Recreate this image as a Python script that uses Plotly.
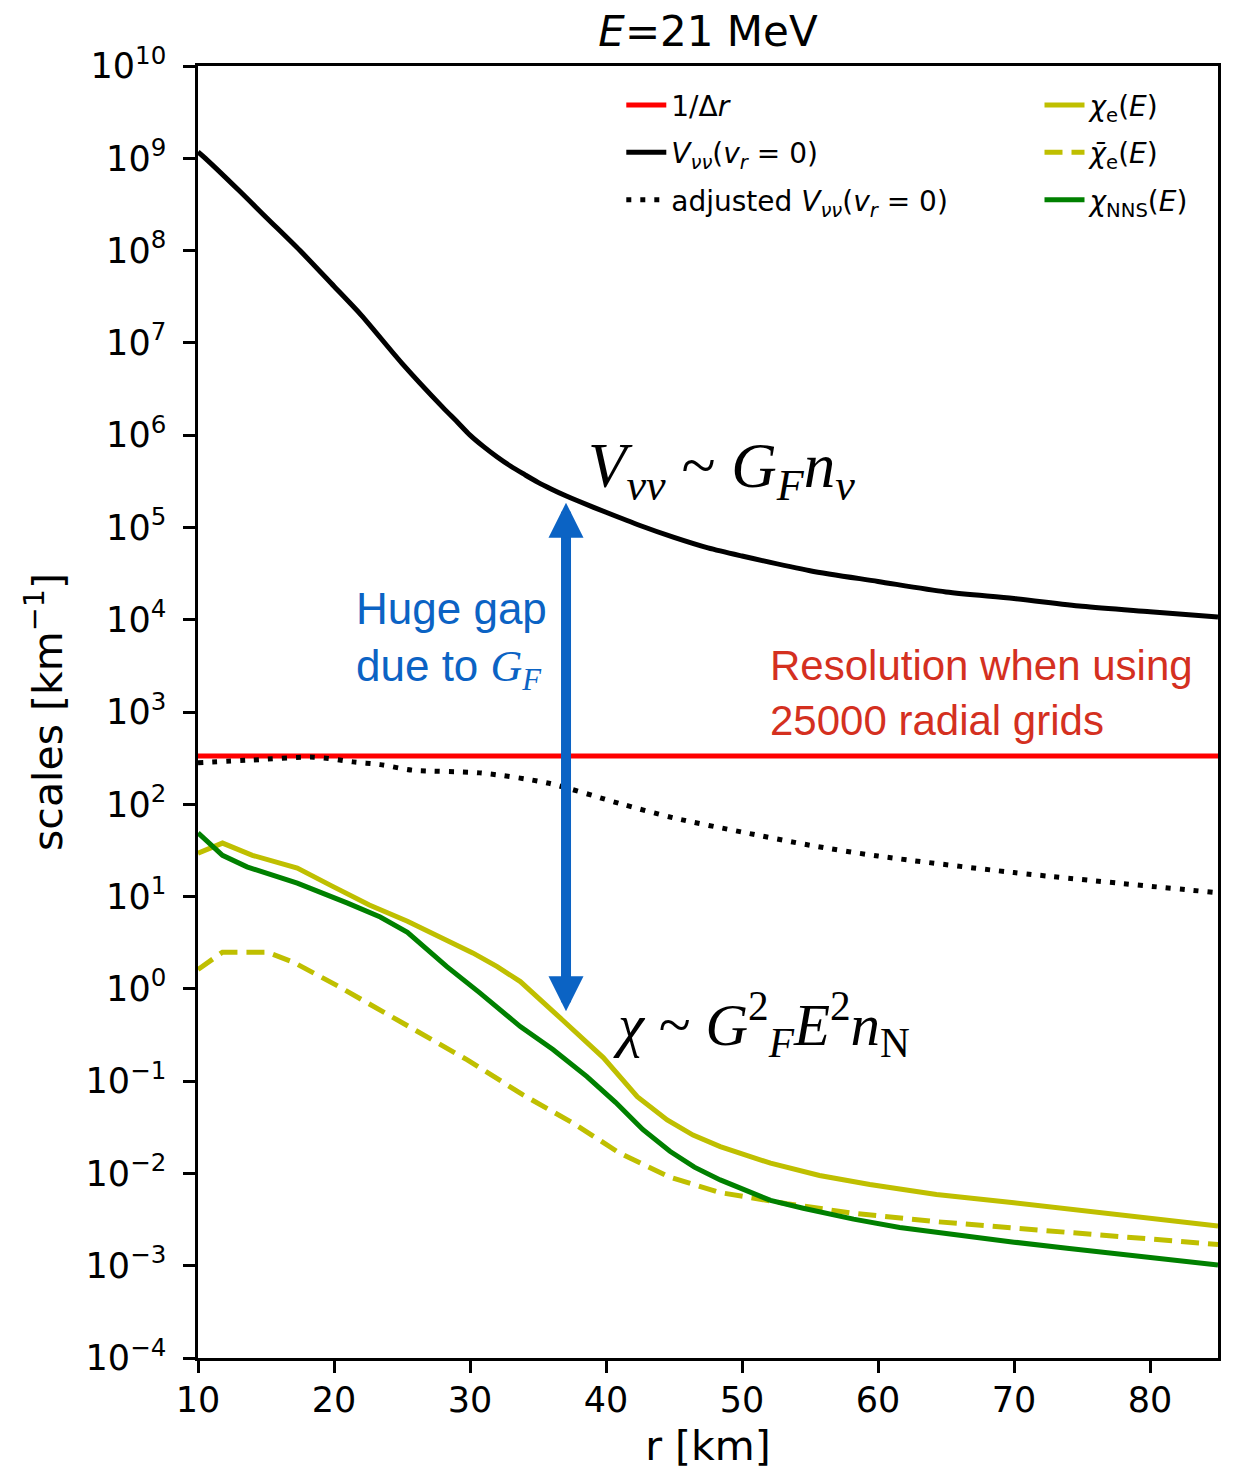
import math
import plotly.graph_objects as go

# ---------------- data ----------------
energy_label = "<i>E</i>=21 MeV"
r_min, r_max = 10, 85
inv_dr = 333.33  # 1/Δr for 25000 radial grids

r_vnn = [10, 10.7, 13, 15, 17.5, 20, 22, 25, 28, 29, 30, 31, 32, 33, 34, 35, 36, 37, 38, 40, 42.5, 45,
         47.5, 50, 55, 60, 65, 70, 75, 80, 85]
v_nn = [1.17e9, 9.5e8, 4.5e8, 2.3e8, 1.0e8, 4.1e7, 2.0e7, 6.0e6, 2.0e6, 1.42e6, 1.0e6, 7.5e5, 5.8e5,
        4.6e5, 3.75e5, 3.08e5, 2.6e5, 2.22e5, 1.92e5, 1.46e5, 1.05e5, 7.8e4,
        6.0e4, 4.9e4, 3.4e4, 2.6e4, 2.0e4, 1.7e4, 1.4e4, 1.22e4, 1.07e4]

r_adj = [10, 14, 18.5, 21.4, 23.4, 25.8, 30.7, 35.7, 41, 45, 50, 55, 60, 70, 85]
v_adj = [282, 302, 324, 288, 269, 234, 219, 170, 102, 71, 50, 36, 27.5, 18.2, 11]

r_chie = [10, 11.8, 14, 17.3, 19.9, 22.6, 25.4, 30.2, 32, 33.7, 36.8, 39.8, 42.3, 44.5, 46.4, 48.4,
          52.1, 55.7, 59.4, 64.3, 70, 74, 80, 85]
chi_e = [29.5, 38, 28, 20.4, 12.9, 8.1, 5.4, 2.45, 1.74, 1.2, 0.46, 0.18, 0.068, 0.038, 0.026, 0.0195,
         0.0129, 0.0095, 0.0076, 0.0059, 0.0048, 0.0041, 0.0032, 0.0027]

r_chieb = [10, 11.8, 15.1, 17, 20.4, 23.4, 26.3, 29.8, 33.9, 37.6, 41, 44.7, 48.4, 53.3, 58.2, 61.6,
           64.3, 73.9, 85]
chi_ebar = [1.62, 2.5, 2.5, 1.95, 1.05, 0.59, 0.33, 0.17, 0.071, 0.035, 0.0166, 0.0091, 0.0062, 0.0047,
            0.0037, 0.0033, 0.0030, 0.0023, 0.0017]

r_nns = [10, 11.8, 13.6, 17.3, 21, 23.4, 25.4, 28.3, 30.7, 33.7, 36.1, 38.6, 40.7, 42.7, 44.7, 46.5,
         48.4, 52.1, 54.5, 58.2, 61.6, 64.3, 70, 73.9, 80, 85]
chi_nns = [49, 28, 21, 14, 8.5, 6.0, 4.1, 1.74, 0.91, 0.39, 0.22, 0.112, 0.059, 0.030, 0.0174, 0.0117,
           0.0085, 0.0051, 0.0042, 0.0032, 0.0026, 0.0023, 0.0018, 0.00155, 0.00123, 0.00102]

x_ticks = [10, 20, 30, 40, 50, 60, 70, 80]
y_exps = list(range(-4, 11))

# arrow anchors (data coordinates)
arrow_r = 37.06
arrow_top, arrow_bottom = 1.85e5, 0.55

# ---------------- figure ----------------
RED, BLACK, YEL, GRN = "#ff0000", "#000000", "#bfbf00", "#008000"
BLUE, TXTRED = "#0b63c4", "#d4301f"
LW = 5

fig = go.Figure()

def add(x, y, name, color, dash=None, legend="legend", group=None, shape="linear"):
    fig.add_trace(go.Scatter(
        x=x, y=y, mode="lines", name=name,
        line=dict(color=color, width=LW, dash=dash, shape=shape, smoothing=0.8),
        legend=legend, legendgroup=group or name, hoverinfo="skip"))

add([r_min, r_max], [inv_dr, inv_dr], "1/Δ<i>r</i>", RED, group="a")
add(r_vnn, v_nn, "<i>V</i><sub><i>νν</i></sub>(<i>v</i><sub><i>r</i></sub> = 0)", BLACK, group="b",
    shape="spline")
add(r_adj, v_adj, "adjusted <i>V</i><sub><i>νν</i></sub>(<i>v</i><sub><i>r</i></sub> = 0)", BLACK,
    dash="5px,9px", group="c", shape="spline")
add(r_chie, chi_e, "<i>χ</i><sub>e</sub>(<i>E</i>)", YEL, legend="legend2", group="d")
add(r_chieb, chi_ebar, "<i>χ̄</i><sub>e</sub>(<i>E</i>)", YEL, dash="18px,9px", legend="legend2", group="e")
add(r_nns, chi_nns, "<i>χ</i><sub>NNS</sub>(<i>E</i>)", GRN, legend="legend2", group="f")

ann = []
ann.append(dict(x=arrow_r, y=math.log10(arrow_top), ax=arrow_r, ay=math.log10(arrow_bottom),
                xref="x", yref="y", axref="x", ayref="y", text="", showarrow=True,
                arrowhead=2, startarrowhead=2, arrowside="end+start", arrowsize=0.7,
                startarrowsize=0.7, arrowwidth=10, arrowcolor=BLUE))
SERIF = "Liberation Serif"
ann.append(dict(x=38.5, y=5.62, xref="x", yref="y", xanchor="left", yanchor="middle", showarrow=False,
                text="<i>V</i><sub><i>νν</i></sub> ~ <i>G</i><sub><i>F</i></sub><i>n</i><sub><i>ν</i></sub>",
                font=dict(family=SERIF, size=63, color="black")))
ann.append(dict(x=40.4, y=-0.39, xref="x", yref="y", xanchor="left", yanchor="middle", showarrow=False,
                text="<i>χ</i> ~ <i>G</i><sup>2</sup><sub><i>F</i></sub><i>E</i><sup>2</sup><i>n</i><sub>N</sub>",
                font=dict(family=SERIF, size=59, color="black")))
ann.append(dict(x=21.45, y=3.78, xref="x", yref="y", xanchor="left", yanchor="middle", showarrow=False,
                align="left",
                text="Huge gap<br>due to <span style='font-family:Liberation Serif'><i>G</i><sub><i>F</i></sub></span>",
                font=dict(family="Liberation Sans", size=44, color=BLUE)))
ann.append(dict(x=51.9, y=3.21, xref="x", yref="y", xanchor="left", yanchor="middle", showarrow=False,
                align="left", text="Resolution when using<br>25000 radial grids",
                font=dict(family="Liberation Sans", size=42, color=TXTRED)))

axis_common = dict(showline=True, mirror=True, linecolor="black", linewidth=2.5, ticks="outside",
                   ticklen=12, tickwidth=2.5, tickcolor="black", showgrid=False, zeroline=False,
                   automargin=False, tickfont=dict(size=35, color="black"))

# the page body adds an 8px margin, so the figure is offset to line up with the window
W, H = 1219, 1462
fig.update_layout(
    width=W, height=H,
    margin=dict(l=190, r=9, t=58, b=112),
    plot_bgcolor="white", paper_bgcolor="white",
    font=dict(family="DejaVu Sans", color="black"),
    title=dict(text=energy_label, x=0.5, xref="paper", xanchor="center",
               y=1 - 23 / H, yref="container", yanchor="middle", font=dict(size=42)),
    xaxis=dict(range=[r_min, r_max], tickvals=x_ticks, ticktext=[str(v) for v in x_ticks],
               ticklabelstandoff=-3,
               title=dict(text="r [km]", font=dict(size=41), standoff=24), **axis_common),
    yaxis=dict(type="log", range=[-4, 10], tickvals=[10.0 ** e for e in y_exps],
               ticktext=["10<sup>" + str(e).replace("-", "−") + "</sup>" for e in y_exps],
               ticklabelstandoff=10,
               title=dict(text="scales [km<sup>−1</sup>]", font=dict(size=41), standoff=11), **axis_common),
    legend=dict(x=0.415, y=0.989, xanchor="left", yanchor="top", bgcolor="rgba(0,0,0,0)",
                font=dict(size=28), tracegroupgap=8, itemwidth=40),
    legend2=dict(x=0.825, y=0.989, xanchor="left", yanchor="top", bgcolor="rgba(0,0,0,0)",
                 font=dict(size=28), tracegroupgap=8, itemwidth=40),
    annotations=ann,
    showlegend=True,
)

fig.write_html("out.html")
